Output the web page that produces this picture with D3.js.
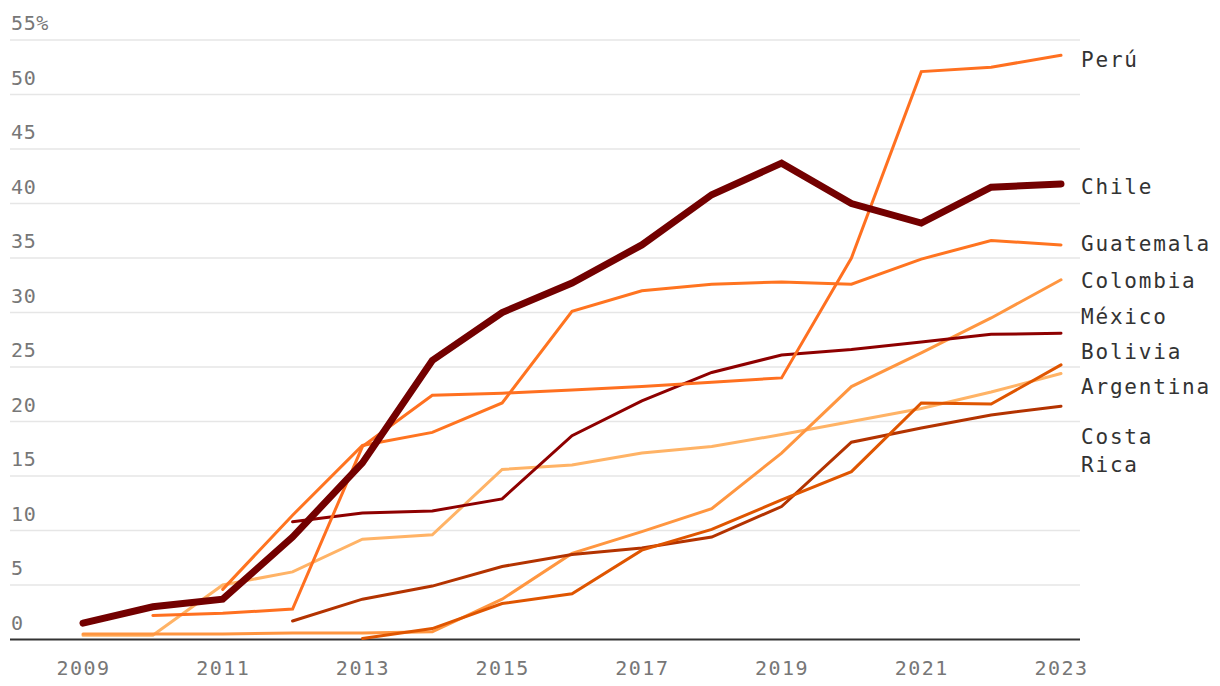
<!DOCTYPE html>
<html><head><meta charset="utf-8">
<script src="https://cdn.jsdelivr.net/npm/d3@7"></script>
<style>
html,body{margin:0;padding:0;background:#fff;}
svg{display:block;}
</style></head>
<body>
<svg id="chart" width="1220" height="686"></svg>
<script>
const years = [2009,2010,2011,2012,2013,2014,2015,2016,2017,2018,2019,2020,2021,2022,2023];
const xTickYears = [2009,2011,2013,2015,2017,2019,2021,2023];
const yTicks = [0,5,10,15,20,25,30,35,40,45,50,55];

// null = no data that year
const peru      = [null,2.2,2.4,2.8,17.7,22.4,22.6,22.9,23.2,23.6,24.0,35.0,52.1,52.5,53.6];
const chile     = [1.5,3.0,3.7,9.4,16.2,25.6,30.0,32.7,36.2,40.8,43.7,40.0,38.2,41.5,41.8];
const guatemala = [null,null,4.6,11.4,17.8,19.0,21.7,30.1,32.0,32.6,32.8,32.6,34.9,36.6,36.2];
const colombia  = [0.5,0.5,0.5,0.6,0.6,0.7,3.7,7.9,9.9,12.0,17.1,23.2,26.3,29.5,33.0];
const mexico    = [null,null,null,10.8,11.6,11.8,12.9,18.7,21.9,24.5,26.1,26.6,27.3,28.0,28.1];
const bolivia   = [null,null,null,null,0.1,1.0,3.3,4.2,8.2,10.1,12.8,15.4,21.7,21.6,25.2];
const argentina = [0.4,0.4,5.0,6.2,9.2,9.6,15.6,16.0,17.1,17.7,18.8,20.0,21.2,22.7,24.4];
const costaRica = [null,null,null,1.7,3.7,4.9,6.7,7.8,8.4,9.4,12.2,18.1,19.4,20.6,21.4];

const series = [
  {name:["Argentina"], values:argentina, color:"#ffb366", width:3, dy:13},
  {name:["Colombia"], values:colombia, color:"#ff9640", width:3, dy:1},
  {name:["Costa","Rica"], values:costaRica, color:"#b33300", width:3, dy:44},
  {name:["Bolivia"], values:bolivia, color:"#df5500", width:3, dy:-13},
  {name:["México"], values:mexico, color:"#8e0000", width:3, dy:-17},
  {name:["Guatemala"], values:guatemala, color:"#ff7420", width:3, dy:-1},
  {name:["Perú"], values:peru, color:"#ff7020", width:3, dy:4},
  {name:["Chile"], values:chile, color:"#730000", width:7, dy:3}
];

const svg = d3.select("#chart");
const left = 10, right = 1080;
const x = d3.scaleLinear().domain([2009,2023]).range([83,1061]);
const y = d3.scaleLinear().domain([0,55]).range([639.5,40]);
const font = "'DejaVu Sans Mono', 'Liberation Mono', monospace";

// gridlines
svg.append("g").selectAll("line").data(yTicks.filter(d=>d>0)).join("line")
  .attr("x1",left).attr("x2",right)
  .attr("y1",d=>y(d)).attr("y2",d=>y(d))
  .attr("stroke","#e6e6e6").attr("stroke-width",1.5);

// y tick labels
svg.append("g").selectAll("text").data(yTicks).join("text")
  .attr("x",left+1).attr("y",d=>y(d)-10)
  .attr("font-family",font).attr("font-size",20).attr("letter-spacing",0.6).attr("fill","#777")
  .text(d=> d===55 ? "55%" : d);

// x axis
const xAxis = d3.axisBottom(x).tickValues(xTickYears).tickFormat(d3.format("d")).tickSize(0).tickPadding(0);
const gx = svg.append("g").attr("transform",`translate(0,${y(0)})`).call(xAxis);
gx.select(".domain").remove();
gx.selectAll("text").attr("font-family",font).attr("font-size",20).attr("fill","#777")
  .attr("dy",0).attr("y",35).attr("letter-spacing",1.5);
svg.append("line").attr("x1",left).attr("x2",right).attr("y1",y(0)).attr("y2",y(0))
  .attr("stroke","#333").attr("stroke-width",2);

// lines
const line = d3.line().defined(d=>d[1]!==null).x(d=>x(d[0])).y(d=>y(d[1]));
svg.append("g").selectAll("path").data(series).join("path")
  .attr("d",s=>line(years.map((yr,i)=>[yr,s.values[i]])))
  .attr("fill","none").attr("stroke",s=>s.color).attr("stroke-width",s=>s.width)
  .attr("stroke-linejoin","miter").attr("stroke-linecap","round");

// labels
const lab = svg.append("g");
series.forEach(s=>{
  const last = s.values[s.values.length-1];
  const cy = y(last)+s.dy;
  const n = s.name.length;
  s.name.forEach((t,i)=>{
    lab.append("text").attr("x",1081)
      .attr("y",cy + (i-(n-1)/2)*28)
      .attr("dy","0.36em")
      .attr("font-family",font).attr("font-size",21).attr("letter-spacing",1.8)
      .attr("fill","#333").text(t);
  });
});
</script>
</body></html>
